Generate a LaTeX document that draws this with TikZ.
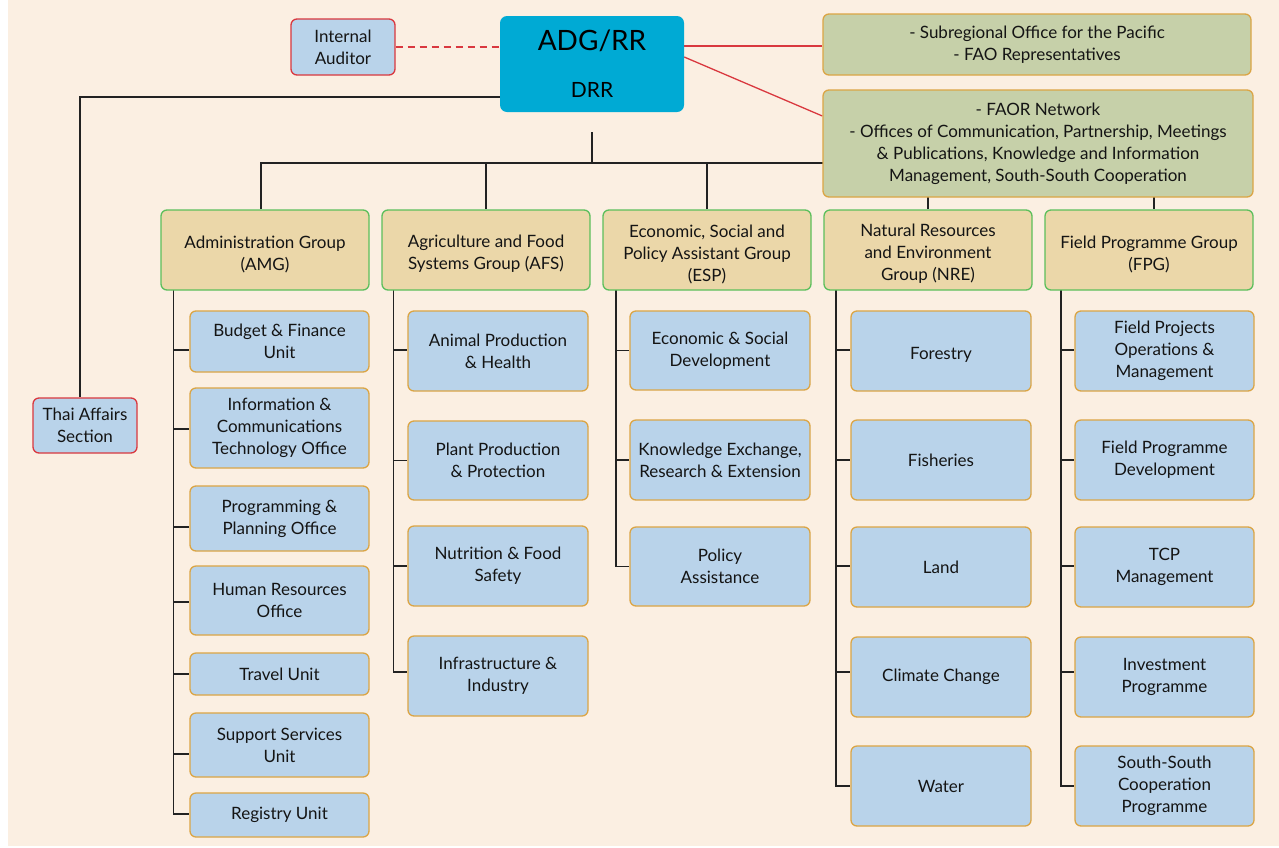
\documentclass[tikz,border=0pt]{standalone}
\usepackage{fontspec}
\setmainfont{Lato}
\definecolor{bgc}{HTML}{FBEFE2}
\definecolor{adgc}{HTML}{00AAD4}
\definecolor{bluec}{HTML}{B9D3EA}
\definecolor{orc}{HTML}{DBA545}
\definecolor{tanc}{HTML}{EBD7A9}
\definecolor{grc}{HTML}{5CBF5C}
\definecolor{greenc}{HTML}{C6D0A9}
\definecolor{redc}{HTML}{D9383F}
\definecolor{linec}{HTML}{222222}
\definecolor{txtc}{HTML}{141414}
\pgfdeclarelayer{back}
\pgfdeclarelayer{lines}
\pgfsetlayers{back,lines,main}
\newcommand\boxtxt{\fontsize{17}{22}\selectfont}
\newcommand\bbox[7]{\node[#1, minimum width={#5-#3}, minimum height={#6-#4}] (#2) at ({(#3+#5)/2},{(#4+#6)/2}) {#7};}
% box whose text sits a little below the centre
\newcommand\gbox[7]{\node[#1, minimum width={#5-#3}, minimum height={#6-#4}, label={[lowtext]center:{#7}}] (#2) at ({(#3+#5)/2},{(#4+#6)/2}) {};}
\begin{document}
\begin{tikzpicture}[x=1pt,y=-1pt,
  box/.style={rounded corners=6pt, line width=1.3pt, align=center, inner sep=0pt, text=txtc, font=\boxtxt},
  lowtext/.style={align=center, inner sep=0pt, text=txtc, font=\boxtxt, yshift=-4pt},
  unit/.style={box, draw=orc, fill=bluec},
  grp/.style={box, draw=grc, fill=tanc},
  greenb/.style={box, draw=orc, fill=greenc},
  redb/.style={box, draw=redc, fill=bluec},
  adgb/.style={rounded corners=7pt, fill=adgc, inner sep=0pt},
  conn/.style={draw=linec, line width=1.4pt},
  redl/.style={draw=redc, line width=1.3pt}]
\useasboundingbox (0,0) rectangle (1279,847);
\begin{pgfonlayer}{back}
\fill[white] (0,0) rectangle (1279,847);
\fill[bgc] (8,0) rectangle (1279,846);
\end{pgfonlayer}

% top level
\bbox{adgb}{adg}{500}{16}{684}{112}{}
\node[anchor=base, inner sep=0pt, text=black, font=\fontsize{28}{30}\selectfont] (adgt) at (592,50) {ADG/RR};
\node[anchor=base, inner sep=0pt, text=black, font=\fontsize{21}{24}\selectfont] (drrt) at (592,97) {DRR};
\bbox{redb}{aud}{291}{19}{395}{75}{Internal\\Auditor}
\bbox{redb}{thai}{33}{398}{137}{453}{Thai Affairs\\Section}
\bbox{greenb}{sub}{823}{14}{1251}{75}{- Subregional Office for the Pacific\\- FAO Representatives}
\bbox{greenb}{faor}{823}{90}{1253}{197}{- FAOR Network\\- Offices of Communication, Partnership, Meetings\\\& Publications, Knowledge and Information\\Management, South-South Cooperation}

% groups
\gbox{grp}{amg}{161}{210}{369}{290}{Administration Group\\(AMG)}
\gbox{grp}{afs}{382}{210}{590}{290}{Agriculture and Food\\Systems Group (AFS)}
\gbox{grp}{esp}{603}{210}{811}{290}{Economic, Social and\\Policy Assistant Group\\(ESP)}
\gbox{grp}{nre}{824}{210}{1032}{290}{Natural Resources\\and Environment\\Group (NRE)}
\gbox{grp}{fpg}{1045}{210}{1253}{290}{Field Programme Group\\(FPG)}

% AMG units
\bbox{unit}{b1}{190}{311}{369}{372}{Budget \& Finance\\Unit}
\bbox{unit}{b2}{190}{388}{369}{468}{Information \&\\Communications\\Technology Office}
\bbox{unit}{b3}{190}{486}{369}{551}{Programming \&\\Planning Office}
\bbox{unit}{b4}{190}{566}{369}{635}{Human Resources\\Office}
\bbox{unit}{b5}{190}{653}{369}{695}{Travel Unit}
\bbox{unit}{b6}{190}{713}{369}{777}{Support Services\\Unit}
\bbox{unit}{b7}{190}{793}{369}{837}{Registry Unit}

% AFS units
\bbox{unit}{a1}{408}{311}{588}{391}{Animal Production\\\& Health}
\bbox{unit}{a2}{408}{421}{588}{500}{Plant Production\\\& Protection}
\bbox{unit}{a3}{408}{526}{588}{606}{Nutrition \& Food\\Safety}
\bbox{unit}{a4}{408}{636}{588}{716}{Infrastructure \&\\Industry}

% ESP units
\bbox{unit}{e1}{630}{311}{810}{390}{Economic \& Social\\Development}
\bbox{unit}{e2}{630}{420}{810}{500}{Knowledge Exchange,\\Research \& Extension}
\bbox{unit}{e3}{630}{527}{810}{606}{Policy\\Assistance}

% NRE units
\gbox{unit}{n1}{851}{311}{1031}{391}{Forestry}
\bbox{unit}{n2}{851}{420}{1031}{500}{Fisheries}
\bbox{unit}{n3}{851}{527}{1031}{607}{Land}
\bbox{unit}{n4}{851}{637}{1031}{717}{Climate Change}
\bbox{unit}{n5}{851}{746}{1031}{826}{Water}

% FPG units
\bbox{unit}{f1}{1075}{311}{1254}{391}{Field Projects\\Operations \&\\Management}
\bbox{unit}{f2}{1075}{420}{1254}{500}{Field Programme\\Development}
\bbox{unit}{f3}{1075}{527}{1254}{607}{TCP\\Management}
\bbox{unit}{f4}{1075}{637}{1254}{717}{Investment\\Programme}
\bbox{unit}{f5}{1075}{746}{1254}{826}{South-South\\Cooperation\\Programme}

\coordinate (stub) at (592,132);
\coordinate (bus) at (592,163);
\coordinate (amgT) at (173.5,290);
\coordinate (afsT) at (393.5,290);
\coordinate (espT) at (616,290);
\coordinate (nreT) at (836,290);
\coordinate (fpgT) at (1061,290);

\begin{pgfonlayer}{lines}
\draw[redl, dash pattern=on 7pt off 5pt] (aud.east) -- (aud.east -| adg.west);
\draw[redl] ([yshift=18pt]adg.east) -- ([yshift=18pt]adg.east -| sub.west);
\draw[redl] ([yshift=7pt]adg.east) -- ([yshift=27.5pt]faor.west);
\draw[conn] ([xshift=-5pt]thai.north) |- ([yshift=-33pt]adg.west);
\draw[conn] (stub) -- (bus);
\draw[conn] ([xshift=-4pt]amg.north) |- (bus);
\draw[conn] (afs.north) |- (bus);
\draw[conn] (esp.north) |- (bus);
\draw[conn] (nre.north) |- (bus);
\draw[conn] ([xshift=5pt]fpg.north) |- (bus);
% AMG
\draw[conn] (amgT) |- ([yshift=-8.5pt]b1.west);
\draw[conn] (amgT) |- ([yshift=-1pt]b2.west);
\draw[conn] (amgT) |- ([yshift=-8.5pt]b3.west);
\draw[conn] (amgT) |- ([yshift=-1.5pt]b4.west);
\draw[conn] (amgT) |- (b5.west);
\draw[conn] (amgT) |- ([yshift=-9pt]b6.west);
\draw[conn] (amgT) |- ([yshift=1pt]b7.west);
% AFS
\draw[conn] (afsT) |- ([yshift=1pt]a1.west);
\draw[conn] (afsT) |- (a2.west);
\draw[conn] (afsT) |- (a3.west);
\draw[conn] (afsT) |- ([yshift=4pt]a4.west);
% ESP
\draw[conn] (espT) |- (e1.west);
\draw[conn] (espT) |- (e2.west);
\draw[conn] (espT) |- (e3.west);
% NRE
\draw[conn] (nreT) |- ([yshift=1pt]n1.west);
\draw[conn] (nreT) |- (n2.west);
\draw[conn] (nreT) |- ([yshift=1pt]n3.west);
\draw[conn] (nreT) |- ([yshift=5pt]n4.west);
\draw[conn] (nreT) |- (n5.west);
% FPG
\draw[conn] (fpgT) |- ([yshift=1pt]f1.west);
\draw[conn] (fpgT) |- (f2.west);
\draw[conn] (fpgT) |- ([yshift=1pt]f3.west);
\draw[conn] (fpgT) |- ([yshift=5pt]f4.west);
\draw[conn] (fpgT) |- (f5.west);
\end{pgfonlayer}
\end{tikzpicture}
\end{document}
